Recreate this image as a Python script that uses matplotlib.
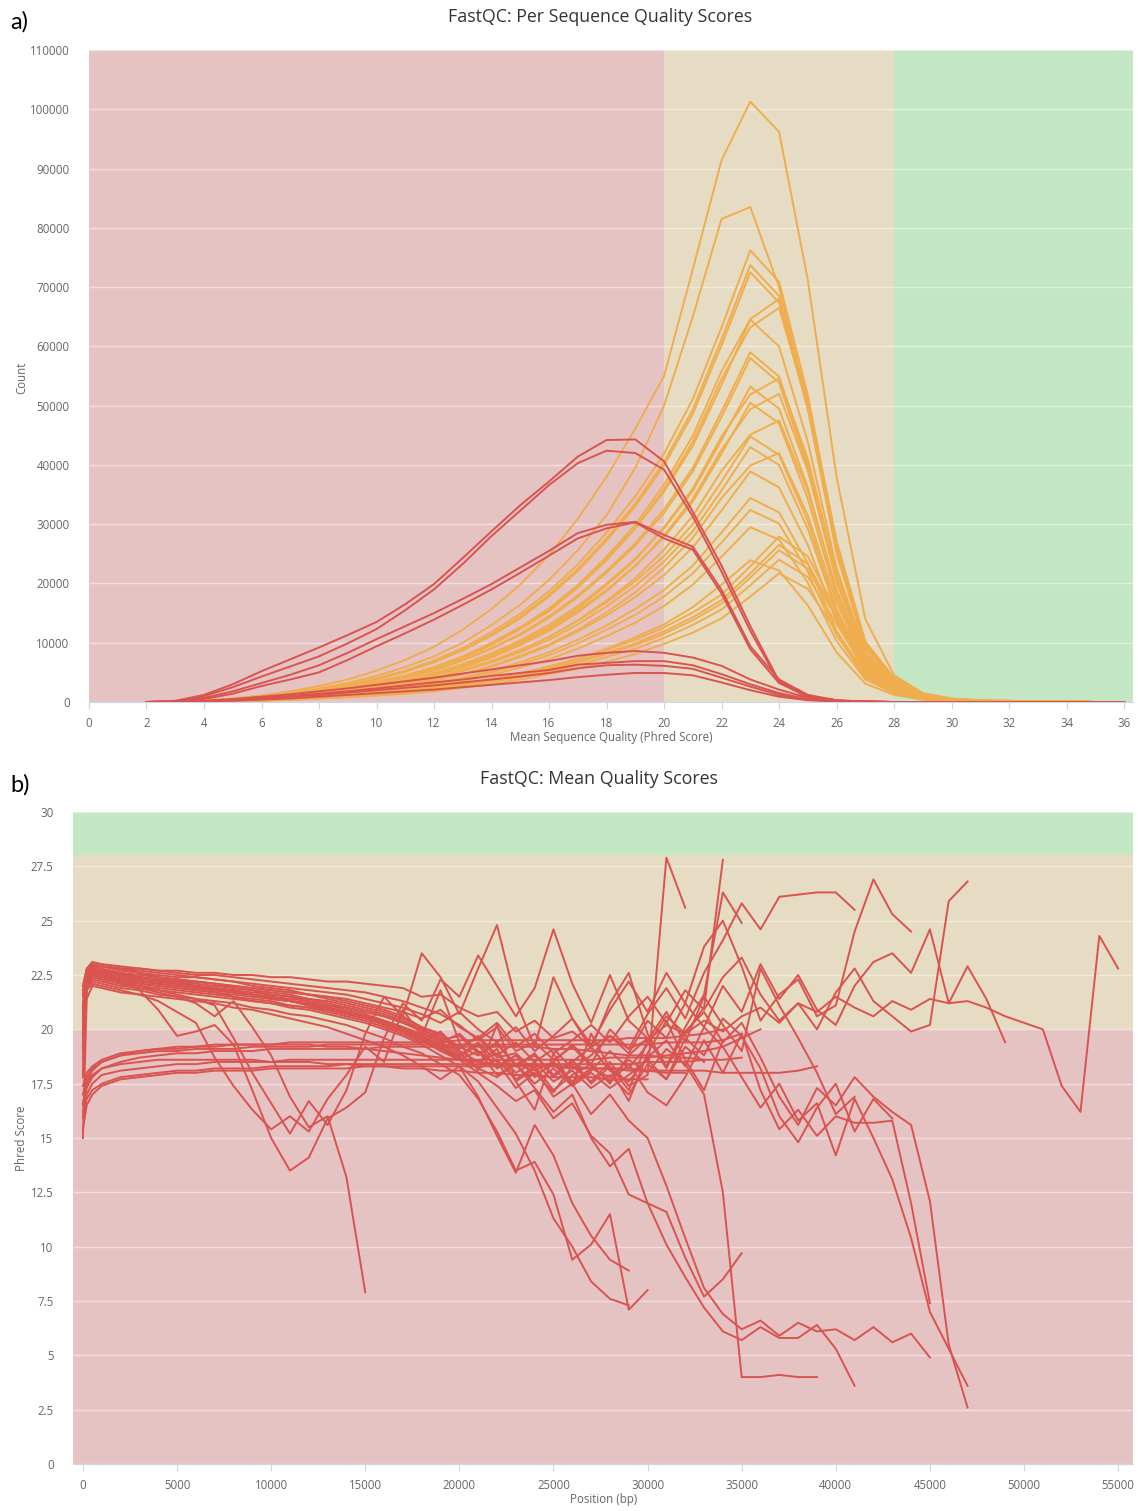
"""FastQC summary figure: a) per-sequence quality histogram, b) mean quality per position."""

import numpy as np
import matplotlib
matplotlib.use("Agg")
import matplotlib.pyplot as plt  # noqa: E402

FAIL = "#d9534f"
WARN = "#f0ad4e"
BG_FAIL = "#e6c3c3"
BG_WARN = "#e6dcc3"
BG_PASS = "#c3e6c3"
TXT = "#666666"

# ---------------- panel a: counts (thousands) at mean quality 2..36 ----------------
QUAL = list(range(2, 37))

FAIL_A1 = [0, 0.2, 1.2, 3.0, 5.2, 7.2, 9.2, 11.3, 13.5, 16.5, 19.9, 24.3, 28.8, 33.2, 37.2, 41.4, 44.2, 44.3,
           40.6, 32.1, 23.0, 12.8, 3.5, 0.9, 0.2, 0.1, 0, 0, 0, 0, 0, 0, 0, 0, 0]
FAIL_A2 = [0, 0.1, 1.0, 2.5, 4.3, 6.0, 7.7, 9.9, 12.3, 15.5, 19.0, 23.3, 28.0, 32.3, 36.6, 40.3, 42.4, 42.0,
           39.2, 31.3, 22.0, 12.0, 3.3, 0.8, 0.2, 0.1, 0, 0, 0, 0, 0, 0, 0, 0, 0]
FAIL_A3 = [0, 0.1, 0.7, 1.8, 3.2, 4.6, 6.2, 8.3, 10.6, 12.8, 15.0, 17.4, 19.9, 22.7, 25.5, 28.5, 29.9, 30.4,
           28.2, 26.2, 18.9, 9.4, 3.8, 1.2, 0.3, 0.05, 0, 0, 0, 0, 0, 0, 0, 0, 0]
FAIL_A4 = [0, 0.1, 0.5, 1.4, 2.7, 3.8, 5.0, 7.1, 9.4, 11.6, 13.9, 16.4, 19.0, 21.8, 24.7, 27.6, 29.3, 30.3,
           27.6, 25.7, 18.3, 8.9, 3.2, 1.0, 0.3, 0.05, 0, 0, 0, 0, 0, 0, 0, 0, 0]
FAIL_A5 = [0, 0, 0.2, 0.5, 0.9, 1.3, 1.8, 2.3, 2.9, 3.5, 4.1, 4.8, 5.5, 6.2, 6.9, 7.8, 8.3, 8.6,
           8.3, 7.5, 6.1, 3.8, 2.1, 0.7, 0.2, 0.05, 0, 0, 0, 0, 0, 0, 0, 0, 0]
FAIL_A6 = [0, 0, 0.15, 0.4, 0.7, 1.0, 1.4, 1.8, 2.3, 2.8, 3.3, 3.8, 4.4, 4.9, 5.4, 6.3, 6.6, 6.9,
           6.9, 6.2, 4.7, 3.0, 1.5, 0.5, 0.15, 0.05, 0, 0, 0, 0, 0, 0, 0, 0, 0]
FAIL_A7 = [0, 0, 0.1, 0.3, 0.6, 0.9, 1.2, 1.6, 2.0, 2.4, 2.8, 3.3, 3.8, 4.3, 4.9, 5.7, 6.2, 6.3,
           6.1, 5.6, 4.1, 2.6, 1.2, 0.4, 0.1, 0.05, 0, 0, 0, 0, 0, 0, 0, 0, 0]
FAIL_A8 = [0, 0, 0.1, 0.2, 0.4, 0.6, 0.9, 1.2, 1.5, 1.8, 2.1, 2.5, 2.9, 3.3, 3.7, 4.2, 4.6, 4.9,
           4.9, 4.5, 3.3, 2.0, 0.9, 0.3, 0.1, 0.03, 0, 0, 0, 0, 0, 0, 0, 0, 0]

WARN_A01 = [0, 0.1, 0.3, 0.6, 1.1, 1.8, 2.7, 3.8, 5.3, 7.1, 9.3, 12.2, 15.7, 19.8, 24.8, 30.9, 38.0, 46.1,
            55.0, 73.0, 91.4, 101.3, 96.2, 71.2, 38.0, 14.0, 4.5, 1.5, 0.6, 0.3, 0.2, 0.1, 0.1, 0, 0]
WARN_A02 = [0, 0.1, 0.2, 0.5, 0.9, 1.5, 2.3, 3.2, 4.4, 5.9, 7.7, 10.0, 13.0, 16.4, 20.6, 25.6, 31.5, 39.5,
            50.0, 65.0, 81.5, 83.5, 70.0, 50.0, 25.0, 9.0, 3.5, 1.2, 0.5, 0.3, 0.2, 0.1, 0.1, 0, 0]
WARN_A03 = [0, 0.1, 0.2, 0.5, 0.8, 1.4, 2.1, 2.9, 4.0, 5.3, 7.0, 9.1, 11.8, 14.9, 18.7, 23.2, 28.6, 34.7,
            41.9, 51.1, 63.2, 76.2, 70.9, 51.8, 26.7, 9.9, 3.8, 1.1, 0.5, 0.2, 0.2, 0.1, 0.1, 0, 0]
WARN_A04 = [0, 0.1, 0.2, 0.4, 0.8, 1.3, 2.0, 2.8, 3.8, 5.2, 6.8, 8.8, 11.4, 14.4, 18.1, 22.5, 27.6, 33.5,
            40.5, 49.4, 61.2, 73.7, 68.5, 50.1, 25.8, 9.6, 3.7, 1.1, 0.4, 0.2, 0.1, 0.1, 0.1, 0, 0]
WARN_A05 = [0, 0.1, 0.2, 0.4, 0.8, 1.3, 2.0, 2.8, 3.8, 5.1, 6.7, 8.7, 11.2, 14.1, 17.8, 22.1, 27.2, 33.0,
            39.9, 48.6, 60.2, 72.5, 67.4, 49.3, 25.4, 9.4, 3.6, 1.1, 0.4, 0.2, 0.1, 0.1, 0.1, 0, 0]
WARN_A06 = [0, 0.1, 0.1, 0.3, 0.7, 1.1, 1.7, 2.4, 3.3, 4.4, 5.8, 7.6, 9.9, 12.6, 15.6, 19.7, 24.5, 29.9,
            36.7, 44.9, 55.8, 64.6, 68.0, 51.0, 27.2, 10.2, 4.1, 1.4, 0.5, 0.2, 0.1, 0.1, 0.1, 0, 0]
WARN_A07 = [0, 0.1, 0.1, 0.3, 0.7, 1.1, 1.7, 2.3, 3.2, 4.3, 5.7, 7.4, 9.6, 12.3, 15.3, 19.3, 23.9, 29.3,
            35.9, 43.9, 54.5, 63.2, 66.5, 49.9, 26.6, 10.0, 4.0, 1.3, 0.5, 0.2, 0.1, 0.1, 0.1, 0, 0]
WARN_A08 = [0, 0.1, 0.2, 0.4, 0.7, 1.2, 1.7, 2.5, 3.4, 4.5, 5.9, 7.7, 10.0, 12.6, 15.8, 19.7, 24.2, 29.3,
            35.5, 43.2, 53.5, 64.5, 60.0, 43.9, 22.6, 8.4, 3.2, 1.0, 0.4, 0.2, 0.1, 0.1, 0.1, 0, 0]
WARN_A09 = [0, 0.1, 0.2, 0.4, 0.6, 1.1, 1.6, 2.2, 3.1, 4.1, 5.4, 7.1, 9.1, 11.5, 14.5, 18.0, 22.1, 26.8,
            32.5, 39.5, 49.0, 59.0, 54.9, 40.1, 20.7, 7.7, 3.0, 0.9, 0.4, 0.2, 0.1, 0.1, 0.1, 0, 0]
WARN_A10 = [0, 0.1, 0.2, 0.3, 0.6, 1.0, 1.6, 2.2, 3.0, 4.1, 5.3, 7.0, 9.0, 11.3, 14.2, 17.7, 21.8, 26.4,
            31.9, 38.9, 48.1, 58.0, 53.9, 39.4, 20.3, 7.5, 2.9, 0.9, 0.3, 0.2, 0.1, 0.1, 0.1, 0, 0]
WARN_A11 = [0, 0.1, 0.1, 0.3, 0.5, 0.9, 1.4, 1.9, 2.6, 3.5, 4.7, 6.1, 7.9, 10.1, 12.6, 15.8, 19.7, 24.0,
            29.5, 36.0, 44.8, 51.9, 54.6, 41.0, 21.8, 8.2, 3.3, 1.1, 0.4, 0.2, 0.1, 0.1, 0.1, 0, 0]
WARN_A12 = [0, 0.1, 0.2, 0.3, 0.6, 1.0, 1.4, 2.0, 2.8, 3.7, 4.9, 6.4, 8.2, 10.4, 13.0, 16.2, 20.0, 24.2,
            29.3, 35.6, 44.2, 53.2, 49.5, 36.2, 18.6, 6.9, 2.7, 0.8, 0.3, 0.2, 0.1, 0.1, 0.1, 0, 0]
WARN_A13 = [0, 0.1, 0.1, 0.3, 0.5, 0.8, 1.3, 1.8, 2.5, 3.4, 4.5, 5.8, 7.5, 9.6, 12.0, 15.1, 18.7, 22.9,
            28.1, 34.3, 42.6, 49.4, 52.0, 39.0, 20.8, 7.8, 3.1, 1.0, 0.4, 0.2, 0.1, 0.1, 0.1, 0, 0]
WARN_A14 = [0, 0.1, 0.2, 0.3, 0.6, 0.9, 1.4, 1.9, 2.6, 3.5, 4.6, 6.1, 7.8, 9.8, 12.4, 15.4, 18.9, 23.0,
            27.8, 33.8, 41.9, 50.5, 47.0, 34.3, 17.7, 6.6, 2.5, 0.8, 0.3, 0.2, 0.1, 0.1, 0.1, 0, 0]
WARN_A15 = [0, 0, 0.1, 0.2, 0.5, 0.8, 1.2, 1.7, 2.3, 3.1, 4.1, 5.3, 6.9, 8.8, 10.9, 13.8, 17.1, 20.9,
            25.7, 31.4, 39.0, 45.1, 47.5, 35.6, 19.0, 7.1, 2.9, 1.0, 0.3, 0.1, 0.1, 0, 0, 0, 0]
WARN_A16 = [0, 0, 0.1, 0.3, 0.5, 0.8, 1.2, 1.7, 2.3, 3.1, 4.1, 5.4, 6.9, 8.7, 11.0, 13.7, 16.8, 20.4,
            24.6, 30.0, 37.2, 44.8, 41.7, 30.5, 15.7, 5.8, 2.2, 0.7, 0.3, 0.1, 0.1, 0, 0, 0, 0]
WARN_A17 = [0, 0, 0.1, 0.3, 0.5, 0.8, 1.2, 1.6, 2.2, 3.0, 4.0, 5.2, 6.7, 8.4, 10.5, 13.1, 16.1, 19.6,
            23.7, 28.8, 35.7, 43.0, 40.0, 29.2, 15.1, 5.6, 2.2, 0.6, 0.3, 0.1, 0.1, 0, 0, 0, 0]
WARN_A18 = [0, 0, 0.1, 0.2, 0.4, 0.7, 1.1, 1.5, 2.0, 2.7, 3.6, 4.7, 6.1, 7.8, 9.7, 12.2, 15.1, 18.5,
            22.7, 27.7, 34.4, 39.9, 42.0, 31.5, 16.8, 6.3, 2.5, 0.8, 0.3, 0.1, 0.1, 0, 0, 0, 0]
WARN_A19 = [0, 0, 0.1, 0.2, 0.4, 0.7, 1.1, 1.5, 2.0, 2.7, 3.6, 4.7, 6.0, 7.6, 9.5, 11.9, 14.6, 17.7,
            21.4, 26.1, 32.3, 38.9, 36.2, 26.5, 13.6, 5.1, 1.9, 0.6, 0.2, 0.1, 0.1, 0, 0, 0, 0]
WARN_A20 = [0, 0, 0.1, 0.2, 0.4, 0.6, 0.9, 1.3, 1.8, 2.4, 3.2, 4.1, 5.3, 6.7, 8.4, 10.5, 12.9, 15.7,
            18.9, 23.0, 28.6, 34.4, 32.0, 23.4, 12.0, 4.5, 1.7, 0.5, 0.2, 0.1, 0.1, 0, 0, 0, 0]
WARN_A21 = [0, 0, 0.1, 0.2, 0.4, 0.6, 0.9, 1.2, 1.7, 2.3, 3.0, 3.9, 5.0, 6.3, 7.9, 9.9, 12.2, 14.7,
            17.8, 21.7, 26.9, 32.4, 30.1, 22.0, 11.3, 4.2, 1.6, 0.5, 0.2, 0.1, 0.1, 0, 0, 0, 0]
WARN_A22 = [0, 0, 0.1, 0.2, 0.3, 0.5, 0.8, 1.1, 1.5, 2.1, 2.7, 3.5, 4.6, 5.8, 7.2, 9.0, 11.1, 13.4,
            16.2, 19.8, 24.5, 29.5, 27.4, 20.1, 10.3, 3.8, 1.5, 0.4, 0.2, 0.1, 0.1, 0, 0, 0, 0]
WARN_A23 = [0, 0, 0.1, 0.1, 0.3, 0.4, 0.6, 0.9, 1.2, 1.7, 2.2, 2.9, 3.7, 4.7, 5.9, 7.3, 9.0, 10.9,
            13.1, 16.0, 19.8, 23.9, 22.2, 16.3, 8.4, 3.1, 1.2, 0.4, 0.1, 0.1, 0, 0, 0, 0, 0]
WARN_A24 = [0, 0, 0.1, 0.1, 0.3, 0.5, 0.7, 1.0, 1.4, 1.8, 2.4, 3.1, 3.9, 4.9, 6.0, 7.3, 8.8, 10.5,
            12.6, 15.1, 18.1, 22.9, 27.9, 24.6, 15.3, 6.1, 2.2, 0.7, 0.2, 0.1, 0, 0, 0, 0, 0]
WARN_A25 = [0, 0, 0.1, 0.1, 0.3, 0.5, 0.7, 1.0, 1.3, 1.7, 2.3, 2.9, 3.7, 4.6, 5.7, 6.9, 8.3, 9.9,
            11.9, 14.3, 17.2, 21.7, 26.5, 23.3, 14.6, 5.8, 2.1, 0.7, 0.2, 0.1, 0, 0, 0, 0, 0]
WARN_A26 = [0, 0, 0.1, 0.1, 0.3, 0.4, 0.7, 0.9, 1.3, 1.7, 2.2, 2.8, 3.6, 4.5, 5.5, 6.7, 8.1, 9.6,
            11.5, 13.8, 16.6, 21.0, 25.6, 22.5, 14.1, 5.6, 2.0, 0.6, 0.2, 0.1, 0, 0, 0, 0, 0]
WARN_A27 = [0, 0, 0, 0.1, 0.2, 0.4, 0.6, 0.9, 1.2, 1.6, 2.0, 2.6, 3.4, 4.2, 5.2, 6.2, 7.6, 9.0,
            10.8, 13.0, 15.6, 19.7, 24.0, 21.1, 13.2, 5.3, 1.9, 0.6, 0.2, 0.1, 0, 0, 0, 0, 0]
WARN_A28 = [0, 0, 0, 0.1, 0.2, 0.4, 0.6, 0.8, 1.1, 1.4, 1.8, 2.4, 3.0, 3.8, 4.7, 5.6, 6.8, 8.1,
            9.8, 11.7, 14.1, 17.8, 21.7, 19.1, 11.9, 4.8, 1.7, 0.5, 0.2, 0.1, 0, 0, 0, 0, 0]

# ---------------- panel b: mean phred score by read position ----------------
POS_BP = [0, 200, 500] + list(range(1000, 56000, 1000))

B_U01 = [20.0, 22.6, 22.9, 22.9, 22.8, 22.8, 22.7, 22.7, 22.6, 22.6, 22.5, 22.5, 22.4, 22.4, 22.3, 22.2,
         22.2, 22.1, 22.0, 21.9, 21.5, 21.6, 21.0, 20.6, 20.8, 19.9, 20.4, 19.6, 19.9, 19.2, 19.7, 19.1,
         19.5, 20.2, 19.8, 20.4, 19.9, 20.6, 21.0, 20.3, 21.2, 20.8, 21.5, 21.0, 20.6, 21.3, 20.9, 21.4,
         21.2, 21.3, 21.0, 20.6, 20.3, 20.0, 17.4, 16.2, 24.3, 22.8]
B_U02 = [17.8, 22.0, 22.6, 22.6, 22.5, 22.4, 22.3, 22.2, 22.2, 22.1, 22.0, 21.9, 21.8, 21.7, 21.6, 21.5,
         21.3, 21.1, 20.9, 20.6, 20.1, 19.8, 19.2, 19.6, 18.7, 18.9, 18.1, 18.5, 17.6, 18.2, 17.8, 18.6,
         18.0, 19.1, 18.4, 17.0, 12.5, 4.0, 4.0, 4.1, 4.0, 4.0]
B_U03 = [21.5, 22.7, 23.0, 22.9, 22.7, 22.6, 22.4, 22.3, 22.2, 22.1, 21.9, 21.8, 21.6, 21.5, 21.3, 21.1,
         20.9, 20.7, 20.4, 20.1, 19.7, 19.3, 18.9, 18.2, 18.6, 17.7, 18.3, 17.2, 17.9, 18.4, 17.5, 18.8,
         19.6, 18.2, 19.9, 20.8, 19.4, 20.3, 18.7, 16.9, 15.6, 17.3, 16.5, 17.8, 16.9, 16.2, 15.6, 12.1,
         5.5, 2.6]
B_U04 = [20.0, 22.3, 22.6, 22.5, 22.3, 22.2, 22.1, 22.0, 21.9, 21.8, 21.7, 21.6, 21.5, 21.4, 21.3, 21.1,
         21.0, 20.8, 20.6, 20.3, 20.0, 19.5, 19.7, 18.9, 19.3, 18.4, 18.8, 17.9, 18.5, 19.2, 18.1, 17.6,
         18.7, 19.5, 18.3, 20.1, 19.2, 17.8, 16.4, 17.5, 15.8, 16.6, 14.2, 16.8, 15.0, 13.1, 10.4, 7.0,
         5.3, 3.6]
B_U05 = [21.0, 22.5, 22.8, 22.7, 22.6, 22.4, 22.3, 22.2, 22.0, 21.9, 21.8, 21.6, 21.5, 21.3, 21.2, 21.0,
         20.8, 20.6, 20.2, 19.9, 19.5, 19.0, 18.6, 18.0, 17.4, 16.7, 17.2, 15.9, 16.6, 15.1, 14.3, 12.4,
         12.0, 10.1, 8.6, 7.2, 6.1, 5.7, 6.3, 5.8, 5.8, 6.4, 5.3, 3.6]
B_U06 = [22.0, 22.8, 23.1, 23.0, 22.9, 22.8, 22.7, 22.6, 22.5, 22.5, 22.4, 22.3, 22.2, 22.1, 22.0, 21.9,
         21.8, 21.7, 21.5, 21.3, 21.0, 20.7, 20.2, 19.5, 20.1, 19.0, 19.4, 18.6, 19.2, 18.3, 17.6, 18.4,
         17.1, 16.5, 17.8, 19.5, 18.0, 19.8, 17.2, 15.4, 16.3, 15.1, 16.0, 15.7, 15.7, 15.8, 12.0, 7.4]
B_U08 = [18.6, 21.9, 22.3, 22.2, 22.0, 21.9, 21.8, 21.7, 21.6, 21.5, 21.4, 21.3, 21.2, 21.1, 21.0, 20.9,
         20.7, 20.5, 20.3, 20.0, 19.6, 19.2, 18.8, 19.4, 18.5, 17.3, 18.0, 17.1, 18.3, 17.6, 18.5, 17.4,
         17.9, 27.9, 25.6]
B_U09 = [20.5, 22.4, 22.7, 22.6, 22.4, 22.3, 22.2, 22.1, 22.0, 21.9, 21.8, 21.7, 21.6, 21.5, 21.4, 21.2,
         21.0, 20.8, 20.6, 20.3, 19.9, 19.4, 19.8, 19.0, 18.3, 18.8, 17.9, 18.4, 17.5, 18.1, 19.0, 18.2,
         19.3, 20.6, 19.8, 21.0, 27.8]
B_U10 = [21.2, 22.6, 22.9, 22.8, 22.6, 22.5, 22.4, 22.3, 22.2, 22.1, 22.0, 21.9, 21.8, 21.7, 21.6, 21.5,
         21.4, 21.2, 21.0, 20.8, 20.5, 20.9, 20.1, 19.6, 20.3, 19.2, 19.8, 18.9, 19.5, 20.2, 19.4, 20.6,
         21.5, 20.3, 21.8, 20.9, 22.4, 23.3, 21.6, 20.4, 21.2, 20.0, 21.7, 22.8, 21.3, 20.6, 19.9, 20.2,
         25.9, 26.8]
B_U11 = [19.5, 22.2, 22.5, 22.4, 22.2, 22.1, 22.0, 21.9, 21.8, 21.7, 21.6, 21.5, 21.4, 21.3, 21.2, 21.0,
         20.8, 20.6, 20.3, 20.0, 19.6, 19.1, 18.7, 19.3, 18.2, 18.8, 17.8, 18.5, 19.3, 18.4, 20.0, 19.1,
         20.7, 21.9, 20.5, 22.6, 24.1, 25.8, 24.6, 26.1, 26.2, 26.3, 26.3, 25.5]
B_U12 = [22.0, 22.7, 22.9, 22.9, 22.8, 22.6, 22.5, 22.4, 22.4, 22.3, 22.2, 22.1, 22.0, 21.9, 21.8, 21.7,
         21.6, 21.4, 21.2, 21.0, 20.7, 20.3, 20.8, 20.0, 19.4, 20.1, 19.0, 19.7, 20.5, 19.3, 20.9, 22.2,
         20.8, 22.6, 21.2, 23.8, 25.0, 22.9, 20.4, 21.6, 22.3, 20.6, 21.1, 24.5, 26.9, 25.3, 24.5]
B_U13 = [20.8, 22.5, 22.8, 22.7, 22.5, 22.4, 22.3, 22.2, 22.1, 22.0, 21.9, 21.8, 21.7, 21.6, 21.4, 21.3,
         21.1, 20.9, 20.7, 20.4, 20.0, 19.6, 19.1, 19.7, 18.8, 19.4, 18.5, 19.1, 18.2, 18.8, 19.7, 18.9,
         20.4, 19.6, 21.2, 20.1, 22.0, 20.8, 23.0, 21.4, 22.5, 20.9, 20.2, 22.0, 23.1, 23.5, 22.6, 24.6,
         21.2, 22.9, 21.4, 19.4]
B_U14 = [19.0, 22.2, 22.6, 22.5, 22.4, 22.2, 22.1, 22.0, 21.9, 21.8, 21.7, 21.6, 21.4, 21.3, 21.1, 21.0,
         20.8, 20.6, 20.4, 20.1, 19.8, 19.4, 19.0, 18.5, 18.9, 18.0, 18.5, 17.6, 18.1, 17.3, 17.9, 17.0,
         18.4, 17.7, 19.2, 18.5]
B_U15 = [21.8, 22.7, 23.0, 22.9, 22.8, 22.7, 22.6, 22.5, 22.4, 22.3, 22.2, 22.0, 21.9, 21.8, 21.6, 21.4,
         21.2, 21.0, 20.8, 20.5, 20.1, 19.7, 19.2, 18.8, 19.4, 18.3, 18.9, 17.8, 18.6, 17.5, 18.3, 17.2,
         19.5, 20.8, 19.4, 21.5, 20.2, 19.0, 22.8, 21.1, 19.6, 18.0, 16.1, 16.9]
B_U16 = [20.4, 22.4, 22.7, 22.6, 22.4, 22.3, 22.2, 22.1, 22.0, 21.9, 21.7, 21.6, 21.5, 21.3, 21.2, 21.0,
         20.8, 20.6, 20.3, 20.0, 19.6, 19.2, 18.7, 18.2, 17.8, 18.4, 17.5, 18.2, 17.4, 18.0, 17.3, 17.9,
         18.6, 17.7, 19.6, 18.8, 20.5, 19.7, 18.2, 16.0, 14.8, 16.4, 17.5, 15.3, 16.8, 15.9]
B_D01 = [20.2, 22.1, 22.4, 22.3, 22.1, 22.0, 21.9, 21.8, 21.7, 21.6, 21.5, 21.3, 21.2, 21.0, 20.9, 20.7,
         20.5, 20.3, 20.0, 19.7, 19.3, 18.8, 18.3, 17.6, 16.4, 15.2, 13.5, 11.3, 10.0, 8.4, 7.6, 7.3]
B_D02 = [19.8, 22.0, 22.2, 22.1, 21.9, 21.8, 21.6, 21.5, 21.4, 21.3, 21.2, 21.0, 20.9, 20.7, 20.6, 20.4,
         20.2, 19.9, 19.6, 19.2, 18.9, 18.4, 17.9, 16.8, 15.3, 13.5, 13.9, 12.4, 9.4, 10.1, 11.5, 7.1, 8.0]
B_D03 = [21.6, 22.6, 22.8, 22.7, 22.5, 22.3, 22.2, 22.1, 22.0, 21.8, 21.7, 21.6, 21.4, 21.3, 21.1, 20.9,
         20.7, 20.5, 20.2, 19.9, 19.5, 19.1, 18.6, 19.0, 17.9, 18.4, 17.3, 16.2, 17.0, 15.0, 13.7, 14.5,
         12.0, 11.6, 9.5, 7.7, 8.5, 9.7]
B_D04 = [15.0, 21.4, 22.0, 21.9, 21.7, 21.6, 21.5, 21.4, 21.3, 21.2, 21.0, 20.9, 20.7, 20.5, 20.3, 20.1,
         19.8, 19.5, 19.2, 18.8, 18.3, 17.7, 18.3, 16.9, 15.1, 13.4, 15.6, 14.2, 12.0, 10.5, 9.4, 8.9]
B_D05 = [20.6, 22.3, 22.6, 22.4, 22.3, 22.1, 22.0, 21.9, 21.8, 21.7, 21.5, 21.4, 21.3, 21.1, 21.0, 20.8,
         20.6, 20.4, 20.1, 19.8, 19.4, 19.9, 19.0, 18.5, 19.1, 17.6, 18.2, 16.9, 17.5, 16.1, 17.0, 15.8,
         15.0, 12.8, 10.4, 8.1, 6.9, 6.2, 6.6, 5.9, 6.5, 6.1, 6.2, 5.7, 6.3, 5.6, 6.0, 4.9]
B_E01 = [21.0, 22.5, 22.7, 22.5, 22.2, 21.8, 20.9, 19.7, 19.9, 20.2, 19.3, 17.2, 15.0, 13.5, 14.1, 15.9,
         16.4, 17.1, 19.6, 21.2, 20.4, 22.3, 21.5, 23.4, 22.0, 20.6, 21.9, 24.6, 22.1, 20.3, 22.5, 20.4, 19.6]
B_E02 = [19.2, 22.0, 22.4, 22.3, 22.1, 21.9, 21.7, 21.5, 21.2, 20.6, 21.3, 20.1, 18.8, 16.9, 15.5, 16.0,
         13.2, 7.9]
B_E03 = [20.3, 22.2, 22.5, 22.4, 22.2, 22.0, 21.8, 21.6, 21.4, 21.1, 19.6, 18.0, 16.6, 15.2, 16.7, 15.6,
         17.2, 19.8, 21.5, 20.6, 23.5, 22.4, 20.7, 22.8, 24.8, 21.3, 19.2, 22.4, 20.5, 19.1, 21.2, 22.6,
         19.8, 18.3, 20.1, 21.6, 26.3, 24.9]
B_E04 = [18.0, 21.8, 22.1, 22.0, 21.8, 21.6, 21.3, 20.8, 20.3, 18.7, 17.4, 16.3, 15.4, 16.0, 15.3, 16.8,
         17.9, 19.2, 18.5, 20.9, 19.7, 21.8, 19.4, 18.1, 20.2, 17.6, 16.3, 18.9, 17.4, 19.8, 18.2, 16.7,
         18.9, 20.4, 18.6, 17.2, 19.5]
B_L01 = [17.0, 17.8, 18.2, 18.5, 18.8, 18.9, 19.0, 19.0, 19.1, 19.1, 19.1, 19.2, 19.2, 19.2, 19.2, 19.3,
         19.3, 19.3, 19.3, 19.3, 19.3, 19.3, 19.3, 19.3, 19.3, 19.3, 19.3, 19.3, 19.3, 19.3, 19.3, 19.3,
         19.3, 19.4, 19.4, 19.4, 19.5, 19.8]
B_L02 = [16.5, 17.6, 18.1, 18.5, 18.8, 19.0, 19.1, 19.1, 19.2, 19.2, 19.3, 19.3, 19.3, 19.4, 19.4, 19.4,
         19.4, 19.4, 19.4, 19.4, 19.4, 19.4, 19.5, 19.5, 19.5, 19.5, 19.5, 19.5, 19.5, 19.5, 19.5, 19.6,
         19.6, 19.6, 19.7, 19.8, 20.0]
B_L03 = [16.2, 17.3, 17.8, 18.2, 18.5, 18.7, 18.8, 18.9, 18.9, 19.0, 19.0, 19.0, 19.1, 19.1, 19.1, 19.1,
         19.1, 19.1, 19.2, 19.2, 19.2, 19.2, 19.2, 19.2, 19.2, 19.2, 19.2, 19.1, 19.1, 19.0, 18.9, 18.8,
         18.8, 18.7, 18.7, 18.6]
B_L04 = [17.4, 18.0, 18.3, 18.6, 18.9, 19.0, 19.1, 19.2, 19.2, 19.3, 19.3, 19.3, 19.3, 19.3, 19.3, 19.2,
         19.2, 19.1, 19.0, 18.9, 18.8, 18.7, 18.6, 18.5, 18.4, 18.4, 18.3, 18.3, 18.3, 18.2, 18.2, 18.2,
         18.1, 18.1, 18.1, 18.1, 18.0, 18.0, 18.0, 18.0, 18.1, 18.3]
B_L05 = [15.9, 16.8, 17.2, 17.5, 17.8, 17.9, 18.0, 18.1, 18.1, 18.2, 18.2, 18.2, 18.3, 18.3, 18.3, 18.3,
         18.4, 18.4, 18.4, 18.4, 18.4, 18.4, 18.4, 18.4, 18.4, 18.4, 18.4, 18.4, 18.4, 18.4, 18.4, 18.4,
         18.5, 18.5, 18.5, 18.6, 18.6, 18.7]
B_L06 = [15.4, 16.5, 17.0, 17.4, 17.7, 17.8, 17.9, 18.0, 18.0, 18.1, 18.1, 18.1, 18.2, 18.2, 18.2, 18.2,
         18.2, 18.3, 18.3, 18.3, 18.3, 18.3, 18.3, 18.3, 18.3, 18.3, 18.3, 18.3, 18.2, 18.2, 18.2, 18.1,
         18.1, 18.0, 18.0]
B_L07 = [16.0, 17.0, 17.5, 17.9, 18.1, 18.2, 18.3, 18.4, 18.4, 18.5, 18.5, 18.5, 18.5, 18.6, 18.6, 18.6,
         18.6, 18.6, 18.6, 18.6, 18.6, 18.6, 18.6, 18.6, 18.6, 18.6, 18.6, 18.6, 18.6, 18.6, 18.7, 18.7,
         18.7, 18.8, 18.9, 19.0, 19.2, 19.6, 20.0]
B_L08 = [16.6, 17.5, 17.9, 18.2, 18.4, 18.5, 18.6, 18.6, 18.6, 18.6, 18.6, 18.6, 18.5, 18.5, 18.5, 18.4,
         18.4, 18.3, 18.3, 18.2, 18.2, 18.1, 18.1, 18.0, 18.0, 17.9, 17.9, 17.8, 17.8, 17.8, 17.7, 17.7, 17.7]


def style_axis(ax):
    for side in ("top", "right", "left"):
        ax.spines[side].set_visible(False)
    ax.spines["bottom"].set_color("#ccd6eb")
    ax.tick_params(axis="y", length=0, colors=TXT, labelsize=8.3, pad=14)
    ax.tick_params(axis="x", length=5, color="#ccd6eb", colors=TXT, labelsize=8.3, pad=6)
    ax.grid(axis="y", color="white", alpha=0.45, lw=1)
    ax.set_axisbelow(True)
    for lab in ax.get_xticklabels() + ax.get_yticklabels():
        lab.set_fontfamily("Open Sans")


fig = plt.figure(figsize=(11.38, 15.11), dpi=100)

# ---- a) ----
ax = fig.add_axes([0.0782, 0.5354, 0.9174, 0.4315])
ax.axvspan(-1, 20, color=BG_FAIL, lw=0, zorder=0)
ax.axvspan(20, 28, color=BG_WARN, lw=0, zorder=0)
ax.axvspan(28, 40, color=BG_PASS, lw=0, zorder=0)
warn_a = [WARN_A01, WARN_A02, WARN_A03, WARN_A04, WARN_A05, WARN_A06, WARN_A07, WARN_A08, WARN_A09,
          WARN_A10, WARN_A11, WARN_A12, WARN_A13, WARN_A14, WARN_A15, WARN_A16, WARN_A17, WARN_A18,
          WARN_A19, WARN_A20, WARN_A21, WARN_A22, WARN_A23, WARN_A24, WARN_A25, WARN_A26, WARN_A27,
          WARN_A28]
fail_a = [FAIL_A5, FAIL_A6, FAIL_A7, FAIL_A8, FAIL_A1, FAIL_A2, FAIL_A3, FAIL_A4]
for s in warn_a:
    ax.plot(QUAL, np.array(s) * 1000, color=WARN, lw=1.4, zorder=2)
for s in fail_a:
    ax.plot(QUAL, np.array(s) * 1000, color=FAIL, lw=1.4, zorder=3)
ax.set_xlim(0, 36.31)
ax.set_ylim(0, 110000)
ax.set_xticks(range(0, 37, 2))
ax.set_yticks(range(0, 110001, 10000))
ax.set_yticklabels([str(v) for v in range(0, 110001, 10000)])
style_axis(ax)

# ---- b) ----
bx = fig.add_axes([0.0641, 0.0311, 0.9315, 0.4315])
bx.axhspan(-1, 20, color=BG_FAIL, lw=0, zorder=0)
bx.axhspan(20, 28, color=BG_WARN, lw=0, zorder=0)
bx.axhspan(28, 31, color=BG_PASS, lw=0, zorder=0)
lines_b = [B_L01, B_L02, B_L03, B_L04, B_L05, B_L06, B_L07, B_L08,
           B_U01, B_U02, B_U03, B_U04, B_U05, B_U06, B_U08, B_U09, B_U10, B_U11, B_U12, B_U13,
           B_U14, B_U15, B_U16, B_D01, B_D02, B_D03, B_D04, B_D05, B_E01, B_E02, B_E03, B_E04]
for s in lines_b:
    bx.plot(POS_BP[:len(s)], s, color=FAIL, lw=1.4, zorder=2)
bx.set_xlim(-530, 55790)
bx.set_ylim(0, 30)
bx.set_xticks(range(0, 55001, 5000))
bx.set_xticklabels([str(v) for v in range(0, 55001, 5000)])
yt = np.arange(0, 30.1, 2.5)
bx.set_yticks(yt)
bx.set_yticklabels([f"{v:g}" for v in yt])
style_axis(bx)

# ---- text ----
fig.text(0.0088, 0.9854, "a)", fontsize=17, family="Lato", va="center", color="black")
fig.text(0.527, 0.9887, "FastQC: Per Sequence Quality Scores", fontsize=12.8, family="Open Sans",
         ha="center", va="center", color="#333333")
fig.text(0.0193, 0.7498, "Count", fontsize=8.3, family="Open Sans", rotation=90,
         ha="center", va="center", color=TXT)
fig.text(0.537, 0.5116, "Mean Sequence Quality (Phred Score)", fontsize=8.3, family="Open Sans",
         ha="center", va="center", color=TXT)
fig.text(0.0088, 0.4805, "b)", fontsize=17, family="Lato", va="center", color="black")
fig.text(0.5264, 0.4845, "FastQC: Mean Quality Scores", fontsize=12.8, family="Open Sans",
         ha="center", va="center", color="#333333")
fig.text(0.0193, 0.2469, "Phred Score", fontsize=8.3, family="Open Sans", rotation=90,
         ha="center", va="center", color=TXT)
fig.text(0.530, 0.0073, "Position (bp)", fontsize=8.3, family="Open Sans",
         ha="center", va="center", color=TXT)

fig.savefig("out.png", dpi=100)
